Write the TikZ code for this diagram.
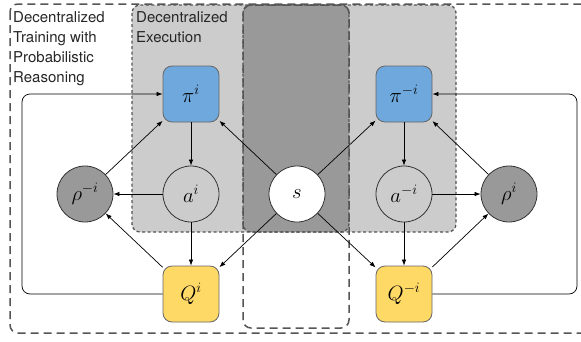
\documentclass[tikz,border=0pt]{standalone}
\usepackage{fontspec}
\setsansfont{TeX Gyre Heros}
\usetikzlibrary{arrows.meta}
\definecolor{polblue}{HTML}{6FA8DC}
\definecolor{qyel}{HTML}{FFD966}
\definecolor{lgray}{HTML}{CCCCCC}
\definecolor{dgray}{HTML}{999999}
\definecolor{edgec}{HTML}{555555}
\begin{document}
\begin{tikzpicture}[x=1pt,y=-1pt,
  sq/.style={rounded corners=9pt, minimum size=56pt, draw=black!60, line width=0.8pt, inner sep=0pt, font=\fontsize{21}{24}\selectfont},
  pol/.style={sq, fill=polblue},
  qf/.style={sq, fill=qyel},
  circ/.style={circle, minimum size=56pt, draw=black!80, line width=0.8pt, inner sep=0pt, font=\fontsize{21}{24}\selectfont},
  arr/.style={-{Latex[length=6pt,width=4.5pt]}, line width=0.7pt},
  outerbox/.style={draw=edgec, line width=1.5pt, dash pattern=on 8pt off 5pt, rounded corners=8pt},
  execbox/.style={draw=edgec, line width=1.3pt, dash pattern=on 3pt off 2.5pt, rounded corners=8pt},
  lbl/.style={anchor=north west, inner sep=0pt, align=left, text=black!85, font=\sffamily\fontsize{15}{20}\selectfont}
]
\useasboundingbox (0,0) rectangle (581,341);
% light execution regions
\fill[lgray, rounded corners=8pt] (132,5) rectangle (349,232);
\fill[lgray, rounded corners=8pt] (243,5) rectangle (456,232);
\fill[dgray, rounded corners=8pt] (243,5) rectangle (349,232);
\draw[execbox] (132,5) rectangle (349,232);
\draw[execbox] (243,5) rectangle (456,232);
% outer training regions
\draw[outerbox] (10,4) rectangle (600,333);
\draw[outerbox] (243,5) rectangle (349,328);

\node[lbl] (trainlbl) at (13,11) {Decentralized\\Training with\\Probabilistic\\Reasoning};
\node[lbl] (execlbl) at (136,11) {Decentralized\\Execution};

\node[pol] (pii) at (191,94) {$\pi^{i}$};
\node[pol] (pimi) at (404,94) {$\pi^{-i}$};
\node[circ, fill=lgray] (ai) at (191,194) {$a^{i}$};
\node[circ, fill=lgray] (ami) at (404,194) {$a^{-i}$};
\node[circ, fill=dgray] (rhomi) at (85,194) {$\rho^{-i}$};
\node[circ, fill=dgray] (rhoi) at (509,194) {$\rho^{i}$};
\node[circ, fill=white] (s) at (297,194) {$s$};
\node[qf] (Qi) at (191,294) {$Q^{i}$};
\node[qf] (Qmi) at (404,294) {$Q^{-i}$};

\coordinate (lx) at (22,0);
\coordinate (rx) at (577,0);

\draw[arr] (pii) -- (ai);
\draw[arr] (ai) -- (Qi);
\draw[arr] (ai) -- (rhomi);
\draw[arr] (Qi) -- (rhomi);
\draw[arr] (rhomi) -- (pii);
\draw[arr] (s) -- (pii);
\draw[arr] (s) -- (Qi);
\draw[arr] (s) -- (pimi);
\draw[arr] (s) -- (Qmi);
\draw[arr] (pimi) -- (ami);
\draw[arr] (ami) -- (Qmi);
\draw[arr] (ami) -- (rhoi);
\draw[arr] (Qmi) -- (rhoi);
\draw[arr] (rhoi) -- (pimi);
\draw[arr, rounded corners=8pt] (Qi.west) -- (Qi.west -| lx) -- (pii.west -| lx) -- (pii.west);
\draw[arr, rounded corners=8pt] (Qmi.east) -- (Qmi.east -| rx) -- (pimi.east -| rx) -- (pimi.east);
\end{tikzpicture}
\end{document}
